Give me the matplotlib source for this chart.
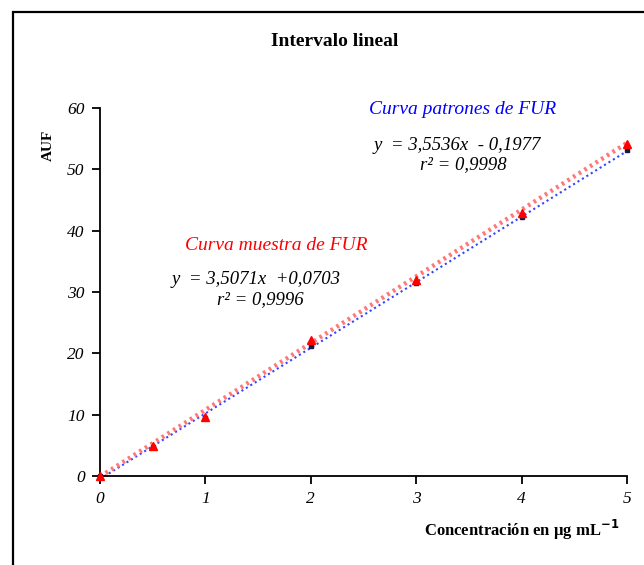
import numpy as np
import matplotlib.pyplot as plt
from matplotlib.patches import Rectangle

# concentracion (ug/mL) y respuesta AUF
conc = [0, 0.5, 1, 2, 3, 4, 5]
auf_patrones = [0.0, 4.8, 9.5, 21.2, 31.4, 42.3, 53.1]
auf_muestra = [0.0, 4.9, 9.7, 22.2, 31.9, 42.9, 54.2]

xticks = [0, 1, 2, 3, 4, 5]
yticks = [0, 10, 20, 30, 40, 50, 60]

serif = ['Liberation Serif', 'DejaVu Serif']
plt.rcParams['font.family'] = serif

fig = plt.figure(figsize=(6.44, 5.65), dpi=100)
fig.patches.append(Rectangle((13 / 644, -0.5), 2.0, 1.5 - 12 / 565,
                             transform=fig.transFigure, fill=False,
                             edgecolor='black', linewidth=1.6))

ax = fig.add_axes([100 / 644, 1 - 476 / 565, 527 / 644, 368 / 565])

# lineas de tendencia
xx = np.array([0, 5])
p_pat = np.polyfit(conc, auf_patrones, 1)
p_mue = np.polyfit(conc, auf_muestra, 1)
ax.plot(xx, np.polyval(p_pat, xx), linestyle=(0, (1, 1.5)), color='#3344ff',
        linewidth=1.5, clip_on=False)
ax.plot(xx, np.polyval(p_mue, xx) + 0.3, linestyle=(0, (0.6, 0.9)),
        color='#ff7777', linewidth=3.2, clip_on=False)

ax.plot(conc, auf_patrones, linestyle='none', marker='s', markersize=3.5,
        color='#1a1a40', clip_on=False, zorder=3)
ax.plot(conc, auf_muestra, linestyle='none', marker='^', markersize=5.5,
        color='red', clip_on=False, zorder=4)

ax.set_xlim(0, 5)
ax.set_ylim(0, 60)
ax.set_xticks(xticks)
ax.set_yticks(yticks)
ax.spines['top'].set_visible(False)
ax.spines['right'].set_visible(False)
ax.spines['left'].set_linewidth(1.3)
ax.spines['bottom'].set_linewidth(1.3)
ax.tick_params(direction='out', length=6, width=1.3, labelsize=12.5, pad=5)
for lab in ax.get_xticklabels() + ax.get_yticklabels():
    lab.set_style('italic')

fig.text(335 / 644, 1 - 42 / 565, 'Intervalo lineal', ha='center', va='center',
         fontsize=14, fontweight='bold')
fig.text(48 / 644, 1 - 145 / 565, 'AUF', ha='center', va='center',
         rotation=90, fontsize=11, fontweight='bold')
fig.text(522 / 644, 1 - 530 / 565, 'Concentración en µg mL$^{\\mathbf{-1}}$',
         ha='center', va='center', fontsize=12, fontweight='bold')

# etiquetas de las curvas
fig.text(463 / 644, 1 - 110 / 565, 'Curva patrones de FUR', ha='center',
         va='center', fontsize=14, style='italic', color='blue')
fig.text(457 / 644, 1 - 145 / 565, 'y  = 3,5536x  - 0,1977', ha='center',
         va='center', fontsize=13.5, style='italic')
fig.text(463 / 644, 1 - 165 / 565, 'r² = 0,9998', ha='center',
         va='center', fontsize=13.5, style='italic')

fig.text(276 / 644, 1 - 245 / 565, 'Curva muestra de FUR', ha='center',
         va='center', fontsize=14, style='italic', color='red')
fig.text(256 / 644, 1 - 280 / 565, 'y  = 3,5071x  +0,0703', ha='center',
         va='center', fontsize=13.5, style='italic')
fig.text(260 / 644, 1 - 300 / 565, 'r² = 0,9996', ha='center',
         va='center', fontsize=13.5, style='italic')

fig.savefig('out.png', dpi=100)
